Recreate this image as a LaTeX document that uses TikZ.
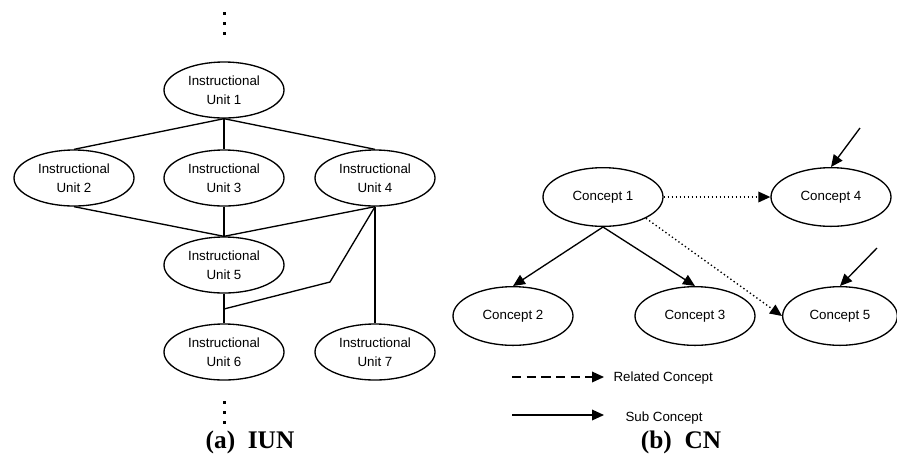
\documentclass[tikz,border=0pt]{standalone}
\usepackage{fontspec}
\setmainfont{Liberation Sans}
\newfontfamily\capfont{Liberation Serif}
\usetikzlibrary{shapes.geometric,arrows.meta}

\tikzset{every picture/.style={line width=0.75pt}}
\tikzset{
  unit/.style={ellipse,draw,line width=1pt,minimum width=90pt,minimum height=42pt,inner sep=0pt,align=center,font=\fontsize{10}{14.5}\selectfont},
  concept/.style={ellipse,draw,line width=1pt,minimum width=90pt,minimum height=44pt,inner sep=0pt,font=\fontsize{10}{12}\selectfont},
  link/.style={line width=1pt},
  sub/.style={line width=1pt,-{Triangle[length=9pt,width=8pt]}},
  related/.style={line width=1pt,dotted,-{Triangle[length=9pt,width=8pt]}},
  legtext/.style={anchor=west,inner sep=0.75pt,font=\fontsize{10}{12}\selectfont},
  captext/.style={inner sep=0.75pt,font=\capfont\bfseries\fontsize{19}{22}\selectfont}
}

\begin{document}
\begin{tikzpicture}[x=0.75pt,y=0.75pt,yscale=-1,xscale=1]
\path[use as bounding box] (0,0) rectangle (897,455);

% (a) IUN
%Shape: Ellipse
\node[unit] (iu1) at (224,90) {Instructional\\Unit 1};
\node[unit] (iu2) at (74,178) {Instructional\\Unit 2};
\node[unit] (iu3) at (224,178) {Instructional\\Unit 3};
\node[unit] (iu4) at (375,178) {Instructional\\Unit 4};
\node[unit] (iu5) at (224,265) {Instructional\\Unit 5};
\node[unit] (iu6) at (224,352) {Instructional\\Unit 6};
\node[unit] (iu7) at (375,352) {Instructional\\Unit 7};

\coordinate (bend) at (330,282);
\coordinate (j6) at (224,309);

%Straight Lines
\draw[link] (iu1.south) -- (iu2.north);
\draw[link] (iu1.south) -- (iu3.north);
\draw[link] (iu1.south) -- (iu4.north);
\draw[link] (iu2.south) -- (iu5.north);
\draw[link] (iu3.south) -- (iu5.north);
\draw[link] (iu4.south) -- (iu5.north);
\draw[link] (iu5.south) -- (iu6.north);
\draw[link] (iu4.south) -- (bend) -- (j6);
\draw[link] (iu4.south) -- (iu7.north);

%Dots
\foreach \y in {13,23,33,402,412,422}
  \fill (222.5,\y-1.5) rectangle (225.5,\y+1.5);

% Text Node
\node[captext] (capa) at (250,442) {(a)\ \ IUN};

% (b) CN
%Shape: Ellipse
\node[concept] (c1) at (603,197) {Concept 1};
\node[concept] (c4) at (831,197) {Concept 4};
\node[concept] (c2) at (513,316) {Concept 2};
\node[concept] (c3) at (695,316) {Concept 3};
\node[concept,minimum width=86pt] (c5) at (840,316) {Concept 5};

\coordinate (in4) at (860,128);
\coordinate (in5) at (877,248);

%Arrows
\draw[sub] (c1.south) -- (c2.north);
\draw[sub] (c1.south) -- (c3.north);
\draw[related] (c1.east) -- (c4.west);
\draw[related] (c1.south east) -- (c5.west);
\draw[sub] (in4) -- (c4.north);
\draw[sub] (in5) -- (c5.north);

%Legend
\coordinate (ra) at (512,377);
\coordinate (rb) at (604,377);
\coordinate (sa) at (512,415);
\coordinate (sb) at (604,415);
\draw[line width=1pt,dash pattern=on 7pt off 4pt,-{Triangle[length=9pt,width=8pt]}] (ra) -- (rb);
\draw[sub] (sa) -- (sb);

% Text Node
\node[legtext] (relt) at (612,378) {Related Concept};
% Text Node
\node[legtext] (subt) at (624,418) {Sub Concept};
% Text Node
\node[captext] (capb) at (681,442) {(b)\ \ CN};

\end{tikzpicture}
\end{document}
